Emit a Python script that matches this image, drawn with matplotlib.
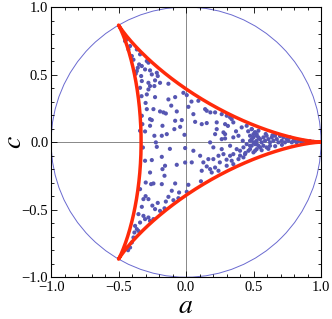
import numpy as np
import matplotlib
matplotlib.use("Agg")
import matplotlib.pyplot as plt
from matplotlib.patches import Circle
from matplotlib.ticker import MultipleLocator

pts_a = [
    # upper-left arm
    -0.452, -0.415, -0.427, -0.402, -0.365, -0.341, -0.348, -0.328, -0.358, -0.365,
    -0.373, -0.291, -0.279, -0.304, -0.267, -0.254, -0.217, -0.210, -0.333, -0.328,
    -0.279, -0.267, -0.279, -0.230, -0.193, -0.235, -0.131, -0.291, -0.230, -0.131,
    -0.081, -0.020, 0.005, -0.341, -0.440, -0.390, -0.330, -0.300,
    # centre-left
    0.017, -0.291, -0.242, -0.193, -0.168, -0.150, -0.069, -0.267, -0.254, -0.081,
    -0.032, -0.328, -0.324, -0.267, -0.175, -0.044, -0.341, -0.304, -0.235, -0.180,
    -0.143, -0.087, -0.012, -0.217, -0.224, -0.007, -0.254, -0.180, -0.304, -0.156,
    -0.069, -0.007, -0.175, -0.267, -0.160, -0.299, -0.259, -0.242, -0.081, 0.017,
    -0.341, -0.106, -0.052, 0.005, 0.110, -0.110, 0.040, -0.320, -0.120,
    # lower-left arm
    -0.180, -0.316, -0.279, -0.131, -0.094, -0.057, -0.230, -0.193, -0.160, -0.328,
    -0.353, -0.316, -0.304, -0.279, -0.267, -0.242, -0.341, -0.378, -0.365, -0.383,
    -0.353, -0.390, -0.402, -0.415, -0.210, -0.250, -0.300, -0.430, -0.150,
    # centre-right
    0.091, 0.141, 0.153, 0.215, 0.264, 0.301, 0.326, 0.338, 0.054, 0.067,
    0.153, 0.227, 0.289, 0.350, 0.412, 0.449, 0.486, 0.511, 0.523, 0.474,
    0.499, 0.536, 0.474, 0.511, 0.523, 0.486, 0.536, 0.449, 0.474, 0.462,
    0.511, 0.227, 0.277, 0.289, 0.215, 0.264, 0.289, 0.350, 0.388, 0.178,
    0.202, 0.264, 0.326, 0.375, 0.400, 0.425, 0.437, 0.350, 0.326, 0.277,
    0.240, 0.202, 0.165, 0.128, 0.153, 0.178, 0.190, 0.215, 0.240, 0.301,
    0.338, 0.350, 0.388, 0.425, 0.104, 0.042, 0.116, 0.054, 0.116,
    0.400, 0.440, 0.370, 0.310, 0.250, 0.420, 0.460, 0.180, 0.300,
    # right cusp
    0.487, 0.499, 0.511, 0.523, 0.536, 0.487, 0.499, 0.523, 0.548, 0.560,
    0.573, 0.585, 0.597, 0.610, 0.622, 0.635, 0.647, 0.659, 0.672, 0.548,
    0.573, 0.597, 0.622, 0.684, 0.696, 0.709, 0.721, 0.733, 0.746, 0.758,
    0.770, 0.783, 0.795, 0.807, 0.819, 0.832, 0.844, 0.856, 0.869, 0.893,
    0.918, 0.943, 0.523, 0.499, 0.511, 0.474, 0.560, 0.610, 0.660, 0.710,
    0.590, 0.640,
]
pts_c = [
    0.748, 0.711, 0.686, 0.637, 0.686, 0.650, 0.575, 0.563, 0.550, 0.526,
    0.506, 0.600, 0.588, 0.538, 0.531, 0.501, 0.513, 0.489, 0.489, 0.452,
    0.439, 0.415, 0.390, 0.457, 0.439, 0.415, 0.432, 0.353, 0.333, 0.316,
    0.333, 0.365, 0.348, 0.402, 0.760, 0.610, 0.340, 0.290,
    0.261, 0.244, 0.244, 0.227, 0.220, 0.212, 0.227, 0.170, 0.163, 0.158,
    0.163, 0.195, 0.133, 0.121, 0.121, 0.113, 0.084, 0.079, 0.047, 0.047,
    0.059, 0.096, 0.054, -0.035, -0.002, -0.044, -0.133, -0.109, -0.138, -0.175,
    -0.168, -0.151, -0.200, -0.225, -0.249, -0.299, -0.311, -0.306, -0.306, -0.316,
    -0.348, -0.360, -0.373, -0.368, -0.290, 0.270, 0.300, -0.040, -0.050,
    -0.311, -0.422, -0.422, -0.405, -0.430, -0.415, -0.496, -0.509, -0.490, -0.479,
    -0.533, -0.546, -0.570, -0.558, -0.583, -0.570, -0.595, -0.620, -0.644, -0.669,
    -0.657, -0.706, -0.743, -0.780, -0.450, -0.470, -0.400, -0.800, -0.440,
    0.306, 0.244, 0.232, 0.220, 0.207, 0.195, 0.183, 0.170, 0.207, 0.150,
    0.141, 0.146, 0.133, 0.146, 0.109, 0.121, 0.096, 0.072, 0.059, 0.047,
    0.035, 0.035, 0.010, -0.002, -0.015, -0.027, -0.027, -0.015, -0.052, -0.064,
    -0.064, 0.096, 0.072, 0.059, 0.059, 0.022, 0.027, 0.035, 0.047, -0.002,
    -0.039, -0.052, -0.027, -0.052, -0.064, -0.039, -0.089, -0.089, -0.101, -0.089,
    -0.101, -0.126, -0.126, -0.150, -0.180, -0.200, -0.225, -0.188, -0.212, -0.175,
    -0.138, -0.163, -0.126, -0.113, -0.101, -0.150, -0.212, -0.064, 0.133,
    -0.100, -0.080, 0.080, 0.120, -0.150, 0.010, 0.080, 0.220, -0.130,
    0.096, 0.059, 0.072, 0.047, 0.084, 0.022, -0.002, 0.010, 0.022, -0.002,
    0.035, 0.010, 0.047, 0.022, -0.002, 0.035, 0.010, 0.047, 0.022, -0.039,
    -0.027, -0.039, -0.027, -0.002, 0.045, 0.010, 0.035, -0.002, 0.022, 0.010,
    0.035, -0.002, 0.010, 0.022, -0.002, 0.010, 0.015, -0.002, 0.010, 0.005,
    0.007, 0.002, -0.052, -0.076, -0.015, -0.027, -0.060, -0.050, -0.030, -0.020,
    0.060, 0.050,
]

plt.rcParams['font.family'] = ['Liberation Serif', 'DejaVu Serif']
plt.rcParams['mathtext.fontset'] = 'stix'

fig = plt.figure(figsize=(3.32, 3.19), dpi=100)
ax = fig.add_axes([0.154, 0.131, 0.813, 0.847])

# unit circle
ax.add_patch(Circle((0, 0), 1.0, fill=False, ec='#6a6ad0', lw=0.7, zorder=1))
ax.axhline(0, color='#888888', lw=0.7, zorder=0)
ax.axvline(0, color='#888888', lw=0.7, zorder=0)

ax.scatter(pts_a, pts_c, s=9, color='#5656b2', edgecolors='none', zorder=2)

# deltoid boundary
t = np.linspace(0, 2 * np.pi, 600)
da = (2 * np.cos(t) + np.cos(2 * t)) / 3
dc = (2 * np.sin(t) - np.sin(2 * t)) / 3
ax.plot(da, dc, color='#ff2a0a', lw=2.5, zorder=3)

ax.set_xlim(-1, 1)
ax.set_ylim(-1, 1)
for a in (ax.xaxis, ax.yaxis):
    a.set_major_locator(MultipleLocator(0.5))
    a.set_minor_locator(MultipleLocator(0.1))
ax.xaxis.set_major_formatter(lambda v, p: f"{v:.1f}".replace('-', '\u2212'))
ax.yaxis.set_major_formatter(lambda v, p: f"{v:.1f}".replace('-', '\u2212'))
ax.tick_params(which='both', direction='in', top=True, right=True,
               labelsize=10.5, width=0.6)
ax.tick_params(axis='x', pad=3)
ax.tick_params(axis='y', pad=2)
ax.tick_params(which='major', length=4.5)
ax.tick_params(which='minor', length=2.2)
for s in ax.spines.values():
    s.set_linewidth(0.8)

ax.set_xlabel('$a$', fontsize=20, va='center')
ax.set_ylabel('$c$', fontsize=20, va='center')
ax.xaxis.set_label_coords(0.5, -0.108)
ax.yaxis.set_label_coords(-0.135, 0.5)

fig.savefig('out.png', dpi=100)
